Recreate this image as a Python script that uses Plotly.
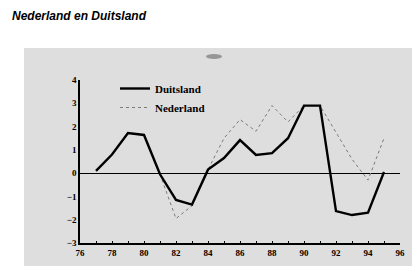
import plotly.graph_objects as go

years = [77, 78, 79, 80, 81, 82, 83, 84, 85, 86, 87, 88, 89, 90, 91, 92, 93, 94, 95]
duitsland = [0.1, 0.8, 1.72, 1.64, -0.05, -1.15, -1.35, 0.15, 0.65, 1.42, 0.78, 0.86, 1.5, 2.9, 2.9, -1.63, -1.8, -1.7, 0.05]
nederland = [0.1, 0.8, 1.72, 1.64, -0.05, -1.95, -1.4, 0.15, 1.5, 2.3, 1.8, 2.9, 2.2, 2.9, 2.9, 1.75, 0.6, -0.3, 1.5]
x_ticks = [76, 78, 80, 82, 84, 86, 88, 90, 92, 94, 96]
y_ticks = [-3, -2, -1, 0, 1, 2, 3, 4]
title = "Nederland en Duitsland"

W, H = 420, 266
L, R, T, B = 72, 28, 72, 31
pw, ph = W - L - R, H - T - B

def px(x):
    return (x - L) / pw

def py(y):
    return (H - B - y) / ph

serif = "Liberation Serif"

fig = go.Figure()
fig.add_trace(go.Scatter(x=years, y=nederland, mode="lines", name="Nederland",
                         line=dict(color="#7a7a7a", width=1, dash="dot"), legendrank=2))
fig.add_trace(go.Scatter(x=years, y=duitsland, mode="lines", name="Duitsland",
                         line=dict(color="black", width=2.4), legendrank=1))

fig.update_layout(
    width=W, height=H,
    margin=dict(l=L, r=R, t=T, b=B, pad=0),
    paper_bgcolor="white", plot_bgcolor="rgba(0,0,0,0)",
    font=dict(family=serif, size=9, color="black", weight="bold"),
    showlegend=True,
    legend=dict(x=px(107), y=py(66), xanchor="left", yanchor="top",
                bgcolor="rgba(0,0,0,0)", font=dict(family=serif, size=11, color="black", weight="bold"),
                tracegroupgap=0, itemwidth=30),
    xaxis=dict(range=[76, 96], tickvals=x_ticks, showgrid=False, zeroline=False,
               showline=True, linecolor="black", linewidth=1.5, ticks="inside", ticklen=2,
               tickcolor="black", tickfont=dict(family=serif, size=9, weight="bold"),
               minor=dict(dtick=1, ticks="inside", ticklen=2, tickcolor="black")),
    yaxis=dict(range=[-3, 4], tickvals=y_ticks, showgrid=False, zeroline=True,
               zerolinecolor="black", zerolinewidth=1, showline=True, linecolor="black",
               linewidth=1.5, ticks="", tickfont=dict(family=serif, size=9, weight="bold")),
    shapes=[
        dict(type="rect", xref="paper", yref="paper", x0=px(16), x1=px(421), y0=py(40), y1=py(267),
             fillcolor="#dedede", line=dict(width=0), layer="below"),
        dict(type="circle", xref="paper", yref="paper", x0=px(198), x1=px(214), y0=py(46), y1=py(51),
             fillcolor="#666666", line=dict(width=0), layer="below", opacity=0.6),
    ],
    annotations=[
        dict(text=title, xref="paper", yref="paper", x=px(3), y=py(0), xanchor="left", yanchor="top",
             borderpad=0, showarrow=False,
             font=dict(family="Liberation Sans", size=12, color="black", weight="bold", style="italic")),
    ],
)

fig.write_html("out.html")
